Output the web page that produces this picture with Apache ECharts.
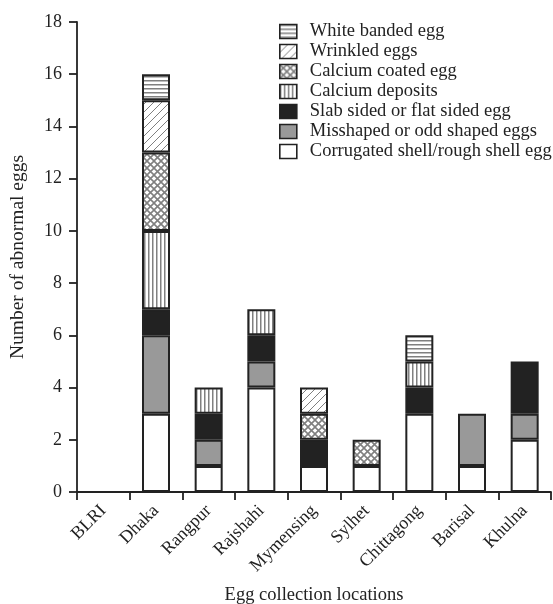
<!DOCTYPE html>
<html>
<head>
<meta charset="utf-8">
<script src="https://cdn.jsdelivr.net/npm/echarts@6/dist/echarts.min.js"></script>
<style>html,body{margin:0;padding:0;background:#fff;}#c{width:553px;height:604px;}</style>
</head>
<body>
<div id="c"></div>
<script>
// ---- data ----
var categories = ['BLRI', 'Dhaka', 'Rangpur', 'Rajshahi', 'Mymensing', 'Sylhet', 'Chittagong', 'Barisal', 'Khulna'];
var corrugated   = [0, 3, 1, 4, 1, 1, 3, 1, 2];
var misshaped    = [0, 3, 1, 1, 0, 0, 0, 2, 1];
var slabSided    = [0, 1, 1, 1, 1, 0, 1, 0, 2];
var calciumDep   = [0, 3, 1, 1, 0, 0, 1, 0, 0];
var calciumCoat  = [0, 3, 0, 0, 1, 1, 0, 0, 0];
var wrinkled     = [0, 2, 0, 0, 1, 0, 0, 0, 0];
var whiteBanded  = [0, 1, 0, 0, 0, 0, 1, 0, 0];
var seriesNames = ['Corrugated shell/rough shell egg', 'Misshaped or odd shaped eggs', 'Slab sided or flat sided egg',
  'Calcium deposits', 'Calcium coated egg', 'Wrinkled eggs', 'White banded egg'];
var yTicks = [0, 2, 4, 6, 8, 10, 12, 14, 16, 18];

// ---- textures ----
function pat(kind) {
  var c = document.createElement('canvas');
  var s = (kind === 'h' || kind === 'v') ? 4 : (kind === 'x' ? 7 : 8);
  c.width = s; c.height = s;
  var g = c.getContext('2d');
  g.fillStyle = '#fff'; g.fillRect(0, 0, s, s);
  g.fillStyle = '#808080'; g.strokeStyle = '#808080';
  if (kind === 'h') { g.fillRect(0, 0, s, 1.5); }
  else if (kind === 'v') { g.fillRect(0, 0, 1.5, s); }
  else if (kind === 'd') {
    g.lineWidth = 1;
    g.beginPath();
    g.moveTo(-1, s + 1); g.lineTo(s + 1, -1);
    g.moveTo(-1, 1); g.lineTo(1, -1);
    g.moveTo(s - 1, s + 1); g.lineTo(s + 1, s - 1);
    g.stroke();
  } else if (kind === 'x') {
    g.lineWidth = 1.6;
    g.beginPath();
    g.moveTo(0, s); g.lineTo(s, 0);
    g.moveTo(0, 0); g.lineTo(s, s);
    g.stroke();
  }
  return { image: c, repeat: 'repeat' };
}
var fills = ['#ffffff', '#999999', '#222222', pat('v'), pat('x'), pat('d'), pat('h')];
var dataSets = [corrugated, misshaped, slabSided, calciumDep, calciumCoat, wrinkled, whiteBanded];

var font = 'Liberation Serif';
var series = dataSets.map(function (d, i) {
  return {
    name: seriesNames[i],
    type: 'bar',
    stack: 'total',
    barWidth: 28,
    data: d.map(function (v) { return v === 0 ? '-' : v; }),
    itemStyle: { color: fills[i], borderColor: '#222', borderWidth: 2 },
    emphasis: { disabled: true }
  };
});

var chart = echarts.init(document.getElementById('c'), null, { renderer: 'canvas' });
chart.setOption({
  animation: false,
  backgroundColor: '#fff',
  grid: { left: 77, right: 2, top: 22, bottom: 112, containLabel: false, outerBoundsMode: 'none' },
  legend: {
    orient: 'vertical',
    left: 274, top: 17,
    itemWidth: 17, itemHeight: 14, itemGap: 1,
    icon: 'rect',
    data: seriesNames.slice().reverse(),
    textStyle: { fontFamily: font, fontSize: 18.5, color: '#222', padding: [0, 0, 0, 8] },
    itemStyle: { borderColor: '#222', borderWidth: 1.6 }
  },
  xAxis: {
    type: 'category',
    data: categories,
    name: 'Egg collection locations',
    nameLocation: 'middle',
    nameGap: 94,
    nameTextStyle: { fontFamily: font, fontSize: 18.5, color: '#222' },
    axisLine: { lineStyle: { color: '#222', width: 1.8 } },
    axisTick: { show: true, length: 8, lineStyle: { color: '#222', width: 1.8 } },
    axisLabel: { rotate: 45, fontFamily: font, fontSize: 18, color: '#222', margin: 16, interval: 0 }
  },
  yAxis: {
    type: 'value',
    min: 0, max: 18, interval: 2,
    name: 'Number of abnormal eggs',
    nameLocation: 'middle',
    nameGap: 49,
    nameTextStyle: { fontFamily: font, fontSize: 19.5, color: '#222' },
    axisLine: { show: true, lineStyle: { color: '#222', width: 1.8 } },
    axisTick: { show: true, length: 8, lineStyle: { color: '#222', width: 1.8 } },
    splitLine: { show: false },
    axisLabel: {
      fontFamily: font, fontSize: 18, color: '#222', margin: 15,
      formatter: function (v) { return yTicks.indexOf(v) >= 0 ? String(v) : ''; }
    }
  },
  series: series
});
</script>
</body>
</html>
